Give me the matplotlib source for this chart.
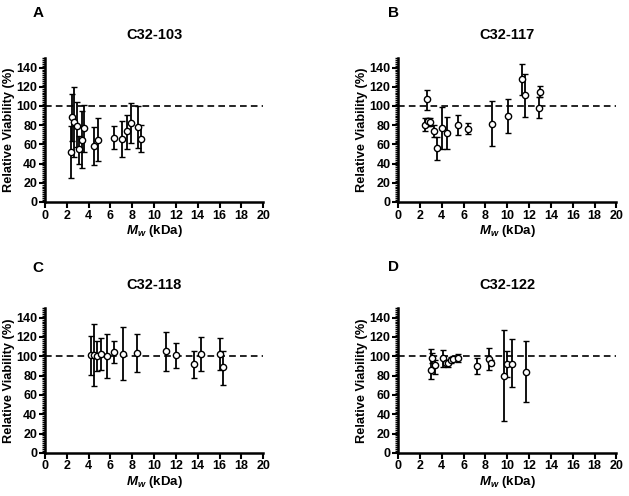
import numpy as np
import matplotlib.pyplot as plt
from matplotlib.ticker import MultipleLocator

plt.rcParams['font.family'] = ['Liberation Sans', 'DejaVu Sans']
plt.rcParams['font.weight'] = 'bold'
plt.rcParams['mathtext.fontset'] = 'custom'
plt.rcParams['mathtext.it'] = 'Liberation Sans:italic:bold'
plt.rcParams['mathtext.rm'] = 'Liberation Sans:bold'

# C32-103
a_mw = [2.35, 2.5, 2.7, 2.95, 3.15, 3.4, 3.6, 4.5, 4.9, 6.3, 7.1, 7.5, 7.9, 8.55, 8.8]
a_v = [52, 88, 83, 79, 55, 65, 77, 58, 65, 67, 66, 74, 82, 78, 66]
a_hi = [79, 113, 120, 104, 69, 95, 101, 78, 87, 79, 84, 91, 103, 100, 80]
a_lo = [25, 64, 47, 57, 40, 35, 52, 38, 43, 55, 47, 55, 61, 56, 52]

# C32-117
b_mw = [2.47, 2.66, 2.72, 2.9, 3.33, 3.54, 4.06, 4.5, 5.47, 6.44, 8.58, 10.1, 11.33, 11.6, 12.9, 13.0]
b_v = [80, 107, 84, 83, 74, 56, 77, 72, 80, 76, 81, 90, 128, 111, 98, 115]
b_hi = [87, 117, 87, 87, 80, 68, 99, 89, 91, 82, 105, 107, 144, 133, 109, 121]
b_lo = [74, 96, 79, 79, 68, 44, 55, 55, 70, 71, 58, 72, 111, 89, 87, 109]

# C32-118
c_mw = [4.18, 4.52, 4.76, 5.1, 5.65, 6.3, 7.15, 8.4, 11.1, 11.97, 13.65, 14.26, 16.03, 16.3]
c_v = [101, 101, 100, 102, 100, 104, 102, 103, 105, 101, 92, 102, 102, 89]
c_hi = [121, 133, 116, 119, 123, 116, 130, 123, 125, 114, 105, 120, 119, 106]
c_lo = [81, 69, 85, 86, 78, 93, 75, 84, 85, 88, 78, 85, 86, 70]

# C32-122
d_mw = [3.02, 3.08, 3.36, 4.1, 4.37, 4.58, 4.8, 4.98, 5.47, 7.18, 8.34, 8.5, 9.7, 10.0, 10.4, 11.76]
d_v = [86, 98, 91, 98, 93, 93, 96, 97, 98, 90, 97, 93, 80, 92, 92, 84]
d_hi = [108, 103, 96, 107, 96, 96, 99, 100, 102, 98, 109, 96, 127, 106, 118, 116]
d_lo = [76, 93, 82, 89, 91, 89, 93, 95, 94, 82, 86, 91, 33, 79, 68, 53]

panels = [
    ("A", "C32-103", a_mw, a_v, a_hi, a_lo),
    ("B", "C32-117", b_mw, b_v, b_hi, b_lo),
    ("C", "C32-118", c_mw, c_v, c_hi, c_lo),
    ("D", "C32-122", d_mw, d_v, d_hi, d_lo),
]

positions = [
    [0.0715, 0.593, 0.347, 0.29],
    [0.633, 0.593, 0.347, 0.29],
    [0.0715, 0.087, 0.347, 0.292],
    [0.633, 0.087, 0.347, 0.292],
]
letter_xy = [(0.052, 0.974), (0.617, 0.974), (0.052, 0.46), (0.617, 0.462)]

fig = plt.figure(figsize=(6.29, 4.96), dpi=100)

for (letter, title, mw, v, hi, lo), pos, lxy in zip(panels, positions, letter_xy):
    ax = fig.add_axes(pos)
    mw = np.array(mw)
    v = np.array(v)
    err = [v - np.array(lo), np.array(hi) - v]
    ax.axhline(100, color="black", linestyle=(0, (4, 2.5)), linewidth=1.2, zorder=1)
    ax.errorbar(mw, v, yerr=err, fmt="o", color="black", ecolor="black",
                elinewidth=1.3, capsize=2.5, capthick=1.3,
                markersize=4.5, markerfacecolor="white", markeredgecolor="black",
                markeredgewidth=1.0, zorder=3)
    ax.set_xlim(0, 20)
    ax.set_ylim(0, 150)
    ax.set_xticks(np.arange(0, 21, 2))
    ax.set_yticks(np.arange(0, 141, 20))
    ax.yaxis.set_minor_locator(MultipleLocator(2))
    ax.spines["top"].set_visible(False)
    ax.spines["right"].set_visible(False)
    ax.spines["left"].set_linewidth(1.8)
    ax.spines["bottom"].set_linewidth(1.8)
    ax.tick_params(axis="both", which="major", direction="out", length=4, width=1.5,
                   labelsize=9, pad=1.5)
    ax.tick_params(axis="y", which="minor", direction="out", length=2, width=1)
    for lab in ax.get_xticklabels() + ax.get_yticklabels():
        lab.set_fontweight("bold")
    ax.set_title(title, fontsize=10.5, fontweight="bold", pad=14)
    ax.set_ylabel("Relative Viability (%)", fontsize=9.2, fontweight="bold", labelpad=1)
    ax.set_xlabel(r"$M_w$ (kDa)", fontsize=9.5, fontweight="bold", labelpad=1)
    fig.text(lxy[0], lxy[1], letter, fontsize=11, fontweight="bold", va="center")

fig.savefig("out.png", dpi=100)
